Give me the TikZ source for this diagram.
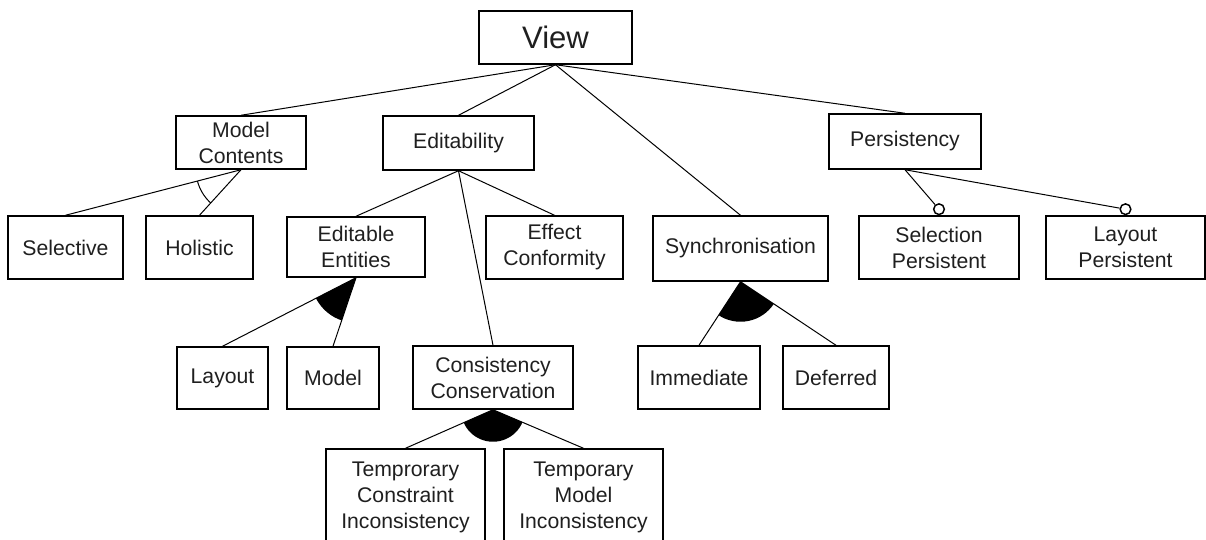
\documentclass[tikz,border=0pt]{standalone}
\usepackage{fontspec}
\setmainfont{Liberation Sans}
\usetikzlibrary{calc}

% feature box given by its corner coordinates: name, x1, y1, x2, y2, text
\newcommand\featnode[6]{%
  \node[feature, minimum width={(#4-#2)*0.75pt}, minimum height={(#5-#3)*0.75pt}]
    (#1) at ({(#2+#4)/2},{(#3+#5)/2}) {#6};}

\begin{document}
\begin{tikzpicture}[x=0.75pt,y=-0.75pt,
  feature/.style={draw=black, line width=1.1pt, align=center, inner sep=0pt,
    text=black!88, font=\fontsize{15.9}{19.5}\selectfont},
  edge/.style={draw=black, line width=0.75pt},
  optmark/.style={circle, draw=black, line width=1.1pt, fill=white,
    minimum size=8pt, inner sep=0pt, anchor=south}]
\useasboundingbox (0,0) rectangle (1206,539);

% root
\featnode{view}{479}{11}{632}{64}{}
\node[text=black!88, font=\fontsize{23.3}{28}\selectfont] (viewlabel) at (view.center) {View};

% first level
\featnode{mc}{176}{116}{306}{169}{Model\\Contents}
\featnode{ed}{383}{116}{534}{170}{Editability}
\featnode{ps}{829}{114}{981}{169}{Persistency}

% second level
\featnode{sel}{8}{216}{123}{279}{Selective}
\featnode{hol}{146}{216}{253}{279}{Holistic}
\featnode{ee}{287}{217}{425}{277}{Editable\\Entities}
\featnode{ec}{486}{216}{623}{279}{Effect\\Conformity}
\featnode{sy}{653}{216}{828}{281}{Synchronisation}
\featnode{sp}{859}{216}{1019}{279}{Selection\\Persistent}
\featnode{lp}{1046}{216}{1205}{279}{Layout\\Persistent}

% third level
\featnode{lay}{177}{347}{268}{409}{Layout}
\featnode{mod}{287}{347}{379}{409}{Model}
\featnode{cc}{413}{346}{573}{409}{Consistency\\Conservation}
\featnode{imm}{638}{346}{760}{409}{Immediate}
\featnode{def}{783}{346}{889}{409}{Deferred}

% fourth level
\featnode{tci}{326}{449}{485}{545}{Temprorary\\Constraint\\Inconsistency}
\featnode{tmi}{504}{449}{663}{545}{Temporary\\Model\\Inconsistency}

% optional markers
\node[optmark] (spo) at (sp.north) {};
\node[optmark] (lpo) at (lp.north) {};

% connectors
\draw[edge] (view.south) -- (mc.north);
\draw[edge] (view.south) -- (ed.north);
\draw[edge] (view.south) -- (sy.north);
\draw[edge] (view.south) -- (ps.north);
\draw[edge] (mc.south) -- (sel.north);
\draw[edge] (mc.south) -- (hol.north);
\draw[edge] (ed.south) -- (ee.north);
\draw[edge] (ed.south) -- (cc.north);
\draw[edge] (ed.south) -- (ec.north);
\draw[edge] (ee.south) -- (lay.north);
\draw[edge] (ee.south) -- (mod.north);
\draw[edge] (sy.south) -- (imm.north);
\draw[edge] (sy.south) -- (def.north);
\draw[edge] (cc.south) -- (tci.north);
\draw[edge] (cc.south) -- (tmi.north);
\draw[edge] (ps.south) -- (spo);
\draw[edge] (ps.south) -- (lpo);

% alternative group (open arc)
\begin{scope}
  \clip (mc.south) -- (sel.north) -- (hol.north) -- cycle;
  \draw[line width=0.75pt] (mc.south) circle[radius=33.75pt];
\end{scope}

% or groups (filled sectors)
\begin{scope}
  \clip (ee.south) -- (lay.north) -- (mod.north) -- cycle;
  \fill (ee.south) circle[radius=33.75pt];
\end{scope}
\begin{scope}
  \clip (sy.south) -- (imm.north) -- (def.north) -- cycle;
  \fill (sy.south) circle[radius=30pt];
\end{scope}
\begin{scope}
  \clip (cc.south) -- (tci.north) -- (tmi.north) -- cycle;
  \fill (cc.south) circle[radius=24pt];
\end{scope}
\end{tikzpicture}
\end{document}
